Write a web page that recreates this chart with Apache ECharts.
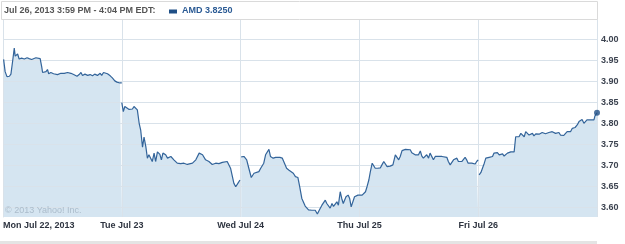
<!DOCTYPE html>
<html><head><meta charset="utf-8">
<script src="https://cdn.jsdelivr.net/npm/echarts@6/dist/echarts.min.js"></script>
<style>html,body{margin:0;padding:0;background:#fff}#c{width:625px;height:244px}</style>
</head><body><div id="c"></div>
<script>
const dayLabels = ['Mon Jul 22, 2013', 'Tue Jul 23', 'Wed Jul 24', 'Thu Jul 25', 'Fri Jul 26'];
const yTicks = [3.60, 3.65, 3.70, 3.75, 3.80, 3.85, 3.90, 3.95, 4.00];
const headerText = 'Jul 26, 2013 3:59 PM - 4:04 PM EDT:';
const seriesName = 'AMD 3.8250';
// minutes after 9:30 open, and prices
const monMin = [2,7,13,21,26,32,37,40,45,48,53,61,70,79,86,94,99,108,122,127,130,135,141,146,150,157,166,179,190,201,212,223,232,243,250,256,261,269,278,286,294,301,310,319,324,330,335,343,352,359,367,374,384,390];
const monPx = [3.952,3.923,3.911,3.912,3.917,3.950,3.979,3.960,3.963,3.965,3.953,3.955,3.953,3.956,3.954,3.952,3.955,3.956,3.954,3.935,3.921,3.918,3.923,3.928,3.918,3.921,3.918,3.916,3.919,3.919,3.921,3.919,3.916,3.912,3.916,3.921,3.914,3.917,3.914,3.916,3.913,3.917,3.914,3.919,3.914,3.921,3.917,3.918,3.913,3.908,3.901,3.898,3.896,3.896];
const tueMin = [0,5,10,16,24,29,35,40,46,51,57,62,68,73,79,84,89,95,100,106,111,117,125,130,135,144,150,161,171,182,193,204,215,232,243,254,265,275,286,297,308,319,330,346,352,357,368,374,381,388];
const tuePx = [3.849,3.828,3.840,3.841,3.833,3.837,3.834,3.840,3.840,3.832,3.800,3.784,3.743,3.767,3.744,3.717,3.725,3.721,3.709,3.729,3.709,3.732,3.726,3.713,3.729,3.725,3.717,3.721,3.713,3.705,3.704,3.705,3.702,3.705,3.713,3.729,3.725,3.713,3.709,3.702,3.705,3.704,3.707,3.709,3.705,3.693,3.657,3.649,3.657,3.665];
const wedMin = [2,11,20,27,35,44,49,60,66,76,82,93,98,107,115,120,129,137,142,151,158,164,173,180,188,194,201,212,223,234,245,252,259,267,272,278,283,294,300,305,316,321,327,332,337,346,353,358,363,368,374,379,385,390];
const wedPx = [3.720,3.721,3.713,3.693,3.671,3.681,3.677,3.685,3.693,3.705,3.725,3.738,3.721,3.717,3.719,3.715,3.719,3.717,3.717,3.693,3.689,3.685,3.681,3.673,3.671,3.649,3.621,3.603,3.594,3.593,3.593,3.584,3.594,3.605,3.601,3.617,3.609,3.598,3.609,3.602,3.613,3.605,3.637,3.621,3.609,3.625,3.629,3.621,3.601,3.605,3.625,3.621,3.629,3.625];
const thuMin = [9,20,25,31,36,42,47,52,60,69,74,80,85,91,101,110,118,123,129,134,140,145,151,156,167,172,178,183,189,194,200,205,210,216,221,227,232,238,243,249,260,271,287,292,298,303,309,314,320,325,331,336,341,347,352,357,363,369,374,380,385,390];
const thuPx = [3.629,3.637,3.649,3.665,3.685,3.705,3.709,3.693,3.693,3.694,3.701,3.709,3.705,3.697,3.698,3.701,3.725,3.727,3.713,3.721,3.735,3.733,3.738,3.740,3.737,3.730,3.727,3.725,3.721,3.725,3.734,3.722,3.717,3.721,3.725,3.717,3.729,3.730,3.713,3.721,3.721,3.721,3.719,3.709,3.701,3.705,3.713,3.709,3.717,3.709,3.705,3.709,3.705,3.719,3.713,3.705,3.701,3.705,3.701,3.703,3.709,3.713];
const friMin = [3,9,14,20,25,31,36,42,47,52,58,63,69,74,80,85,91,96,101,107,118,123,129,134,140,145,151,156,167,178,183,189,200,210,221,232,243,254,265,270,281,287,292,298,303,309,318,325,331,336,341,347,352,357,363,369,374,380,383,390];
const friPx = [3.677,3.683,3.693,3.705,3.717,3.721,3.719,3.722,3.721,3.729,3.727,3.730,3.725,3.729,3.727,3.722,3.725,3.729,3.730,3.732,3.732,3.768,3.772,3.768,3.776,3.772,3.768,3.780,3.772,3.776,3.770,3.775,3.774,3.778,3.775,3.778,3.780,3.776,3.778,3.772,3.771,3.772,3.780,3.784,3.780,3.788,3.790,3.796,3.804,3.808,3.809,3.800,3.804,3.808,3.812,3.808,3.809,3.808,3.817,3.825];

const dayMins = [monMin, tueMin, wedMin, thuMin, friMin];
const dayPx = [monPx, tuePx, wedPx, thuPx, friPx];
const gapAfter = [true, true, false, true, false];
const DAY = 390;
const data = [];
dayMins.forEach((mins, d) => {
  mins.forEach((m, i) => data.push([d * DAY + m, dayPx[d][i]]));
  if (gapAfter[d]) data.push([(d + 1) * DAY, '-']);
});
const last = data[data.length - 1];

const FONT = '"Liberation Sans", Arial, sans-serif';
const gridColor = '#d9e2ea';
const chart = echarts.init(document.getElementById('c'), null, {renderer: 'canvas'});
chart.setOption({
  animation: false,
  backgroundColor: '#fff',
  grid: {left: 2, right: 28, top: 19, bottom: 27, containLabel: false},
  xAxis: {
    type: 'value', min: 0, max: 5 * DAY, interval: DAY, z: 3,
    axisLine: {show: false}, axisTick: {show: false},
    splitLine: {show: true, lineStyle: {color: gridColor, width: 1}},
    axisLabel: {
      margin: 4, color: '#2e3440', fontFamily: FONT, fontWeight: 'bold', fontSize: 9,
      alignMinLabel: 'left', showMaxLabel: false,
      formatter: v => dayLabels[Math.round(v / DAY)] || ''
    }
  },
  yAxis: {
    type: 'value', position: 'right', min: 3.5769, max: 4.0483, z: 3,
    axisLine: {show: true, lineStyle: {color: gridColor}},
    axisTick: {show: false, customValues: yTicks},
    splitLine: {show: true, lineStyle: {color: gridColor, width: 1}},
    axisLabel: {
      customValues: yTicks, margin: 4, color: '#3c4350', fontFamily: FONT, fontWeight: 'bold', fontSize: 9,
      formatter: v => v.toFixed(2)
    }
  },
  series: [
    {type: 'line', data: data, z: 2, silent: true, showSymbol: false, connectNulls: false,
     lineStyle: {width: 0, opacity: 0}, areaStyle: {color: '#d5e5f1', opacity: 1, origin: 'start'}},
    {type: 'line', data: data, z: 5, showSymbol: false, connectNulls: false,
     lineStyle: {width: 1.2, color: '#33649a'}},
    {type: 'scatter', data: [last], z: 6, symbolSize: 6, itemStyle: {color: '#1f4f86'}}
  ],
  graphic: [
    {type: 'rect', shape: {x: 1.5, y: 1.5, width: 596, height: 18}, style: {fill: '#fff', stroke: '#dadada', lineWidth: 1}, z: 10},
    {type: 'text', x: 4, y: 11, style: {text: headerText, fill: '#555', font: 'bold 9px ' + FONT, textVerticalAlign: 'middle'}, z: 11},
    {type: 'rect', shape: {x: 169, y: 9.5, width: 8, height: 4}, style: {fill: '#1f4f86'}, z: 11},
    {type: 'text', x: 182, y: 11, style: {text: seriesName, fill: '#2a5a94', font: 'bold 9px ' + FONT, textVerticalAlign: 'middle'}, z: 11},
    {type: 'text', x: 5, y: 211, style: {text: '\u00a9 2013 Yahoo! Inc.', fill: '#abbccb', font: '9px ' + FONT, textVerticalAlign: 'middle'}, z: 11},
    {type: 'rect', shape: {x: 0, y: 241, width: 597, height: 3}, style: {fill: '#e4e4e4'}, z: 11}
  ]
});
</script>
</body></html>
